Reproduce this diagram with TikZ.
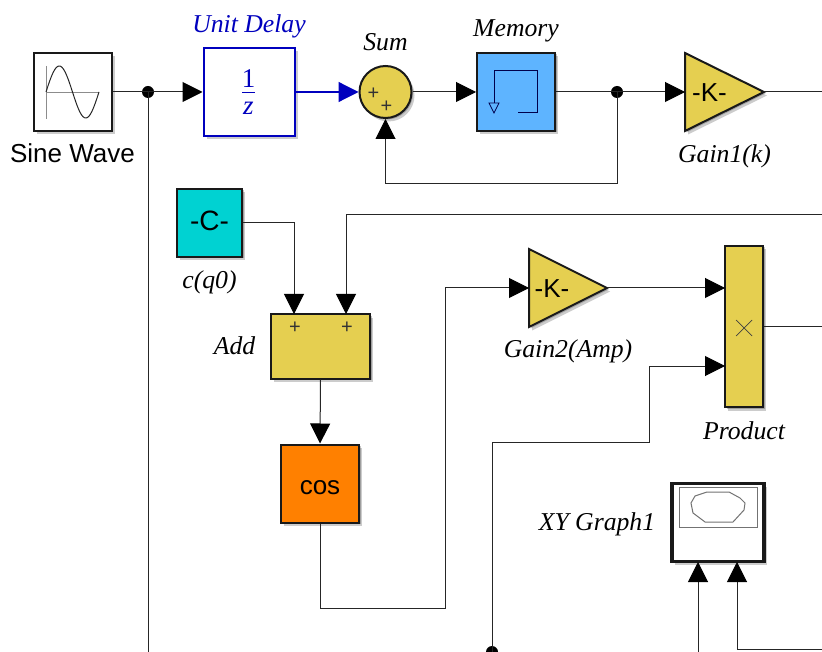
\documentclass[tikz,border=0pt]{standalone}
\usepackage{fontspec}
\setmainfont{Liberation Serif}
\newfontfamily\sansf{Liberation Sans}
\usetikzlibrary{arrows.meta,shadows}
\definecolor{blockyellow}{RGB}{229,207,80}
\definecolor{blockcyan}{RGB}{0,210,210}
\definecolor{blockblue}{RGB}{94,180,255}
\definecolor{blockorange}{RGB}{255,128,0}
\definecolor{delayblue}{RGB}{0,0,190}
\tikzset{
  x=1pt,y=-1pt,
  softshadow/.style={
    drop shadow={shadow xshift=1.5pt,shadow yshift=-1.5pt,fill=black,opacity=.22},
    drop shadow={shadow xshift=3pt,shadow yshift=-3.5pt,fill=black,opacity=.2}},
  block/.style={draw=black!90,line width=2pt,inner sep=0pt,softshadow},
  ghost/.style={inner sep=0pt,outer sep=0pt},
  wire/.style={draw=black!85,line width=1pt},
  arrowwire/.style={wire,-{Triangle[length=20pt,width=20pt,color=black]}},
  bluewire/.style={draw=delayblue,line width=1.2pt,-{Triangle[length=20pt,width=20pt,color=delayblue]}},
  junction/.style={circle,fill=black,minimum size=12pt,inner sep=0pt},
  lab/.style={font=\fontsize{25.7}{28}\selectfont\itshape,inner sep=0pt,anchor=base},
  sanslab/.style={font=\sansf\fontsize{26}{29}\selectfont,inner sep=0pt,anchor=base},
  sign/.style={font=\sansf\fontsize{20}{20}\selectfont,inner sep=0pt,text=black!80},
  triblock/.style={fill=blockyellow,draw=black!90,line width=2pt,line join=miter,softshadow},
}
\begin{document}
\begin{tikzpicture}
\useasboundingbox (0,0) rectangle (822,652);
\clip (0,0) rectangle (822,652);
\fill[white] (0,0) rectangle (822,652);

% blocks
\node[block,fill=white,minimum width=78pt,minimum height=78pt] (sine) at (72.5,92) {};
\draw[black!45,line width=.6pt] (46,66) -- (46,119) (46,92) -- (99,92);
\draw[black!85,line width=1pt] plot[domain=0:360,samples=60,smooth] ({46+\x/360*53},{92-26*sin(\x)});
\node[block,draw=delayblue,fill=white,minimum width=91pt,minimum height=88pt] (del) at (249,92) {};
\node[text=delayblue,font=\fontsize{27}{27}\selectfont,inner sep=0pt,anchor=base] (one) at (248.5,88) {1};
\draw[delayblue,line width=1.3pt] (242,92.5) -- (255,92.5);
\node[text=delayblue,font=\fontsize{27}{27}\selectfont\itshape,inner sep=0pt,anchor=base] (zed) at (248.5,115) {z};
\node[block,circle,fill=blockyellow,minimum size=52pt] (sum) at (385.5,92) {};
\node[sign] (p1) at (373.5,93.5) {+};
\node[sign] (p2) at (386.5,106.5) {+};
\node[block,fill=blockblue,minimum width=78pt,minimum height=78pt] (mem) at (516,92) {};
\draw[black!70!blue,line width=1pt] (518,113) -- (537,113) -- (537,71) -- (494,71) -- (494,103);
\draw[black!70!blue,line width=.8pt] (489,103) -- (499,103) -- (494,113) -- cycle;

\node[ghost,minimum width=79pt,minimum height=78pt] (g1) at (724.5,92) {};
\path[triblock] (g1.north west) -- (g1.south west) -- (g1.east) -- cycle;
\node[sanslab] (g1t) at (709.5,101.5) {-K-};

\node[block,fill=blockcyan,minimum width=65pt,minimum height=68pt] (c) at (209.5,223) {};
\node[sanslab,font=\sansf\fontsize{28}{29}\selectfont] (ct) at (209.5,230.5) {-C-};
\node[block,fill=blockyellow,minimum width=99pt,minimum height=64pt] (add) at (320.5,346.5) {};
\node[sign] (a1) at (295,328) {+};
\node[sign] (a2) at (347,328) {+};
\node[block,fill=blockorange,minimum width=78pt,minimum height=78pt] (cos) at (320,483.5) {};
\node[sanslab] (cost) at (320,494) {cos};

\node[ghost,minimum width=78pt,minimum height=78pt] (g2) at (568,288) {};
\path[triblock] (g2.north west) -- (g2.south west) -- (g2.east) -- cycle;
\node[sanslab] (g2t) at (552,297.5) {-K-};

\node[block,fill=blockyellow,minimum width=38pt,minimum height=161pt] (prod) at (744,326.5) {};
\draw[black!75,line width=.7pt] (736,320) -- (752,336) (752,320) -- (736,336);

\node[block,line width=3.5pt,fill=white,minimum width=92pt,minimum height=78pt] (xy) at (718,522.5) {};
\draw[black!55,line width=1pt] (679,487) rectangle (757,527);
\draw[black!55,line width=1pt] (691,503) -- (695,496) -- (707,492) -- (729,492) -- (740,498) -- (745,503) -- (744,510) -- (733,522) -- (705,522) -- (693,513) -- cycle;

% free ends and junctions
\node[junction] (j1) at (148,92) {};
\node[junction] (j2) at (617,92) {};
\node[junction] (j3) at (492,652) {};
\coordinate (e1) at (822,92);
\coordinate (e2) at (822,215);
\coordinate (e3) at (822,327);
\coordinate (e4) at (822,649);
\coordinate (e5) at (148,652);
\coordinate (e6) at (698,652);
\coordinate (inA) at (294,314);
\coordinate (inB) at (346,314);
\coordinate (inP1) at (725,288);
\coordinate (inP2) at (725,366);
\coordinate (inX1) at (698,562);
\coordinate (inX2) at (737,562);

% connectors
\draw[wire] (sine.east) -- (j1.center);
\draw[wire] (j1.center) -- (e5);
\draw[arrowwire] (j1.center) -- (del.west);
\draw[bluewire] (del.east) -- (sum.west);
\draw[arrowwire] (sum.east) -- (mem.west);
\draw[wire] (mem.east) -- (j2.center);
\draw[arrowwire] (j2.center) -- (g1.west);
\draw[wire] (g1.east) -- (e1);
\draw[arrowwire] (j2.center) |- (385.5,184) -- (sum.south);
\draw[arrowwire] (c.east) -| (inA);
\draw[arrowwire] (e2) -| (inB);
\draw[arrowwire] (add.south) -- (cos.north);
\draw[arrowwire] (cos.south) |- (445,608) |- (g2.west);
\draw[arrowwire] (g2.east) -- (inP1);
\draw[arrowwire] (j3.center) |- (649,442) |- (inP2);
\draw[wire] (prod.east |- e3) -- (e3);
\draw[arrowwire] (e6) -- (inX1);
\draw[arrowwire] (e4) -| (inX2);

% labels
\node[lab,text=delayblue] (lDel) at (249,32.5) {Unit Delay};
\node[lab] (lSum) at (385.5,51) {Sum};
\node[lab] (lMem) at (516,37) {Memory};
\node[lab] (lG1) at (724.5,162.5) {Gain1(k)};
\node[sanslab] (lSine) at (72.5,162.5) {Sine Wave};
\node[lab] (lC) at (209.5,288.5) {c(q0)};
\node[lab] (lAdd) at (234.5,354) {Add};
\node[lab] (lG2) at (568,357) {Gain2(Amp)};
\node[lab] (lProd) at (744,439) {Product};
\node[lab] (lXY) at (597,530) {XY Graph1};
\end{tikzpicture}
\end{document}
